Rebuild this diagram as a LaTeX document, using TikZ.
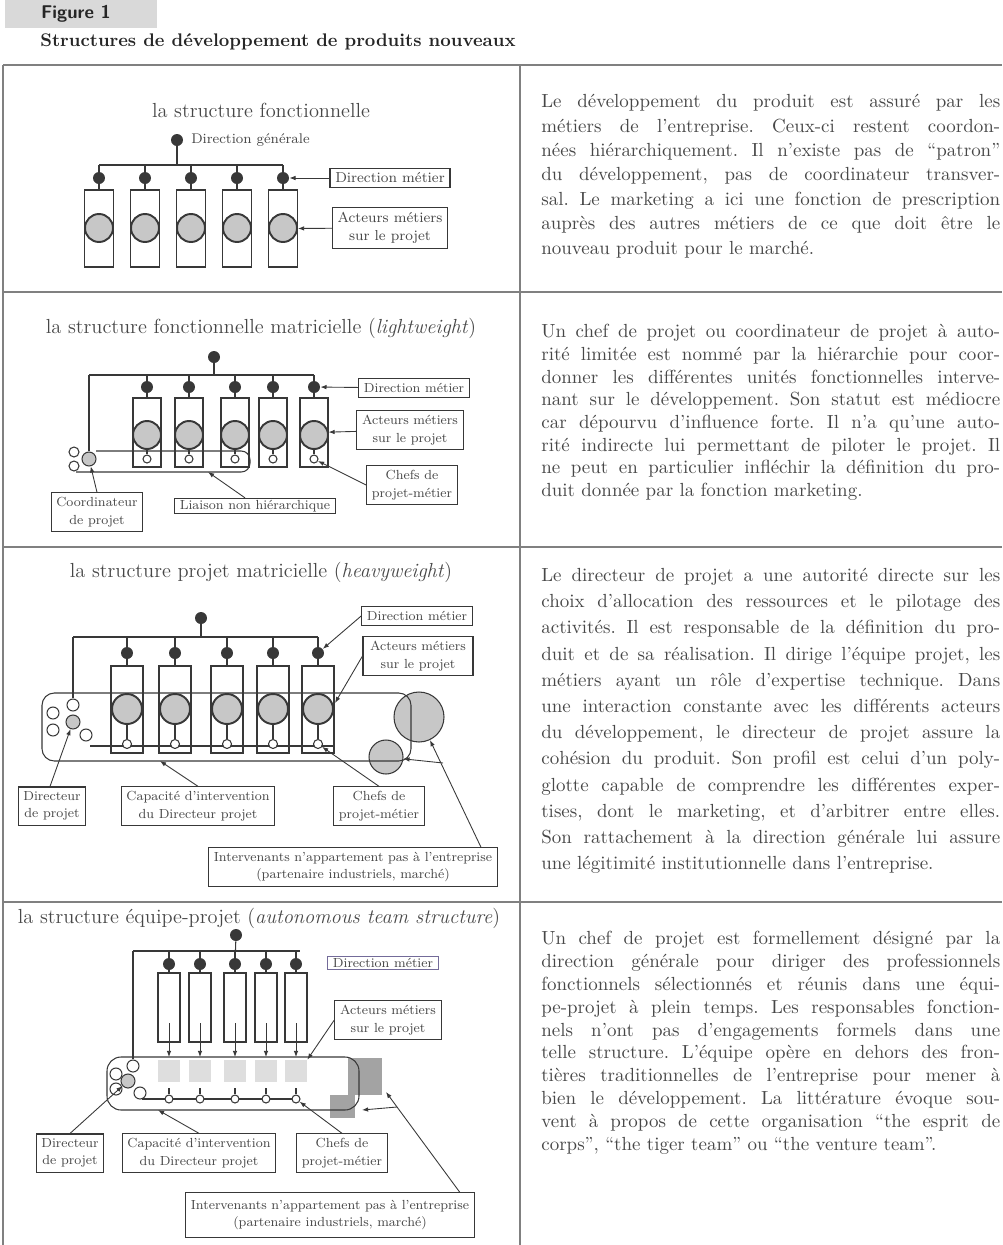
\documentclass[tikz,border=0pt]{standalone}
\usepackage{tikz}
\usetikzlibrary{positioning, arrows.meta}
\definecolor{cligne}{gray}{0.22}
\definecolor{cacteur}{gray}{0.78}
\definecolor{ccase}{gray}{0.87}
\definecolor{cext}{gray}{0.64}
\definecolor{ccadre}{gray}{0.5}
\definecolor{ctexte}{gray}{0.28}
\definecolor{cbandeau}{gray}{0.85}
\definecolor{cbleu}{rgb}{0.45,0.42,0.6}
\setlength{\parindent}{0pt}
\frenchspacing
\tolerance=10000
\hbadness=10000
\exhyphenpenalty=10000
\hyphenpenalty=10000

\begin{document}
\begin{tikzpicture}[x=0.02cm, y=-0.02cm,
    rond/.style={circle, fill=cligne, inner sep=0pt, minimum size=0.24cm},
    poste/.style={draw=cligne, line width=0.6pt, inner sep=0pt},
    acteur/.style={circle, draw=cligne, line width=1.1pt, fill=cacteur, inner sep=0pt},
    chef/.style={circle, draw=cligne, line width=0.6pt, fill=white, inner sep=0pt, minimum size=0.16cm},
    autre/.style={circle, draw=cligne, line width=0.6pt, inner sep=0pt, minimum size=0.24cm},
    dirp/.style={circle, draw=cligne, line width=0.6pt, fill=cacteur, inner sep=0pt, minimum size=0.28cm},
    etiq/.style={draw=cligne, line width=0.6pt, fill=white, align=center, text=ctexte,
                 font=\fontsize{7.5}{10}\selectfont, inner xsep=3pt, inner ysep=2.5pt},
    titre/.style={text=ctexte, font=\fontsize{11.6}{13}\selectfont},
    lien/.style={cligne, line width=0.6pt},
    fl/.style={-{Latex[length=3.5pt,width=2.6pt]}, cligne, line width=0.5pt},
    texte/.style={anchor=north west, inner sep=0pt, text width=9.18cm, align=justify, text=ctexte}]

  \useasboundingbox (0,0) rectangle (1002,1245);

  % en-tete
  \fill[cbandeau] (5,0) rectangle (157,28);
  \node[font=\sffamily\bfseries\fontsize{10.5}{12}\selectfont, text=black!85] (fig) at (76,14) {Figure 1};
  \node[font=\bfseries\fontsize{10.4}{12}\selectfont, text=black!85] (titre) at (278,42)
    {Structures de développement de produits nouveaux};
  \draw[ccadre, line width=0.8pt] (3,65) -- (1002,65) (3,292) -- (1002,292)
    (3,547) -- (1002,547) (3,902) -- (1002,902) (3,65) -- (3,1245) (520,65) -- (520,1245);

  % structure fonctionnelle
  \node[titre] (t1) at (261,110) {la structure fonctionnelle};
  \node[rond] (g1) at (177,140) {};
  \node[right=1pt of g1, text=ctexte, font=\fontsize{8}{9}\selectfont] (gl1) {Direction générale};
  \draw[lien] (g1) -- (177,165);
  \draw[lien] (99,165) -- (283,165);
  \foreach \i/\x in {1/99, 2/145, 3/191, 4/237, 5/283} {
    \node[rond] (d1\i) at (\x,178) {};
    \node[poste, minimum width=0.58cm, minimum height=1.54cm] (p1\i) at (\x,228.5) {};
    \node[acteur, minimum size=0.56cm] (a1\i) at (\x,228) {};
    \draw[lien] (\x,165) -- (d1\i) (d1\i) -- (p1\i);
  }
  \node[etiq, font=\fontsize{8.2}{10.5}\selectfont] (dm1) at (390,178) {Direction métier};
  \node[etiq, font=\fontsize{8.2}{10.5}\selectfont] (am1) at (390,228) {Acteurs métiers\\sur le projet};
  \draw[fl] (dm1) -- (d15);
  \draw[fl] (am1) -- (p15);

  % structure fonctionnelle matricielle
  \node[titre] (t2) at (261,328) {la structure fonctionnelle matricielle (\textit{lightweight})};
  \node[rond] (g2) at (214,357) {};
  \draw[lien] (g2) -- (214,375);
  \draw[lien] (89,375) -- (314,375);
  \draw[lien, rounded corners=5pt] (96,451) -- (250,451) -- (250,472) -- (76,472);
  \node[dirp] (cc2) at (89,459) {};
  \draw[lien] (89,375) -- (cc2);
  \node[autre, minimum size=0.2cm] (o21) at (74,452) {};
  \node[autre, minimum size=0.2cm] (o22) at (74,466) {};
  \foreach \i/\x in {1/147, 2/189, 3/235, 4/273, 5/314} {
    \node[rond] (d2\i) at (\x,387) {};
    \node[poste, minimum width=0.56cm, minimum height=1.38cm] (p2\i) at (\x,432.5) {};
    \node[acteur, minimum size=0.56cm] (a2\i) at (\x,435) {};
    \node[chef] (c2\i) at (\x,459) {};
    \draw[lien] (\x,375) -- (d2\i) (d2\i) -- (p2\i) (a2\i) -- (c2\i);
  }
  \node[etiq] (dm2) at (414,388) {Direction métier};
  \node[etiq] (am2) at (410,430) {Acteurs métiers\\sur le projet};
  \node[etiq] (ch2) at (412,485) {Chefs de\\projet-métier};
  \node[etiq] (co2) at (97,512) {Coordinateur\\de projet};
  \node[etiq, inner ysep=1pt] (li2) at (255,506) {Liaison non hiérarchique};
  \coordinate (lb2) at (208,472);
  \draw[fl] (dm2) -- (d25);
  \draw[fl] (am2) -- (p25);
  \draw[fl] (ch2.west) -- (c25);
  \draw[fl] (co2.north) -- (cc2);
  \draw[fl] ([xshift=-0.2cm]li2.north) -- (lb2);

  % structure projet matricielle
  \node[titre] (t3) at (261,572) {la structure projet matricielle (\textit{heavyweight})};
  \node[rond] (g3) at (201,618) {};
  \draw[lien] (g3) -- (201,637);
  \draw[lien] (73,637) -- (318,637);
  \node[acteur, line width=0.6pt, minimum size=1.0cm] (ge3) at (419,717) {};
  \node[acteur, line width=0.6pt, minimum size=0.68cm] (pe3) at (386,757) {};
  \draw[lien, rounded corners=7pt] (42,693) rectangle (411,761);
  \draw[lien] (90,746) -- (334,746);
  \node[dirp] (dir3) at (73,722) {};
  \foreach \n/\p in {1/{73,705}, 2/{53,713}, 3/{53,730}, 4/{86,735}}
    \node[autre] (o3\n) at (\p) {};
  \draw[lien] (73,637) -- (o31);
  \foreach \i/\x in {1/127, 2/175, 3/227, 4/273, 5/318} {
    \node[rond] (d3\i) at (\x,653) {};
    \node[poste, minimum width=0.64cm, minimum height=1.74cm] (p3\i) at (\x,709.5) {};
    \node[acteur, minimum size=0.6cm] (a3\i) at (\x,709) {};
    \node[chef, minimum size=0.18cm] (c3\i) at (\x,744) {};
    \draw[lien] (\x,637) -- (d3\i) (d3\i) -- (p3\i) (a3\i) -- (c3\i);
  }
  \node[etiq, minimum width=2.2cm] (dm3) at (417,616) {Direction métier};
  \node[etiq, minimum width=2.2cm] (am3) at (418,656) {Acteurs métiers\\sur le projet};
  \node[etiq] (dp3) at (52,806) {Directeur\\de projet};
  \node[etiq] (ca3) at (198,806) {Capacité d'intervention\\du Directeur projet};
  \node[etiq] (ch3) at (379,806) {Chefs de\\projet-métier};
  \node[etiq] (in3) at (353,867)
    {Intervenants n'appartement pas à l'entreprise\\(partenaire industriels, marché)};
  \coordinate (pa3) at (335,703);
  \coordinate (cb3) at (160,761);
  \coordinate (br3) at (443,763);
  \draw[fl] (dm3.west) -- (d35);
  \draw[fl] (am3.west) -- (pa3);
  \draw[fl] ([xshift=-0.04cm]dp3.north) -- (dir3);
  \draw[fl] (ca3.north) -- (cb3);
  \draw[fl] (ch3.north) -- (c35);
  \draw[fl] ([xshift=-0.34cm]in3.north east) -- (ge3);
  \draw[fl] (br3) -- (pe3);

  % structure equipe-projet
  \node[titre] (t4) at (259,918) {la structure équipe-projet (\textit{autonomous team structure})};
  \node[rond] (g4) at (236,935) {};
  \draw[lien] (133,951) -- (300,951);
  \fill[cext] (348,1058) rectangle (382,1095);
  \fill[cext] (330,1095) rectangle (355,1118);
  \draw[lien, rounded corners=8pt] (107,1057) rectangle (359,1110);
  \draw[lien] (142,1099) -- (296,1099);
  \node[dirp] (dir4) at (128,1081) {};
  \foreach \n/\p in {1/{133,1066}, 2/{116,1074}, 3/{116,1089}, 4/{140,1093}}
    \node[autre] (o4\n) at (\p) {};
  \draw[lien] (133,951) -- (o41);
  \foreach \i/\x in {1/169, 2/200, 3/235, 4/266, 5/296} {
    \node[rond] (d4\i) at (\x,964) {};
    \node[poste, minimum width=0.44cm, minimum height=1.38cm] (p4\i) at (\x,1007.5) {};
    \node[fill=ccase, minimum size=0.44cm, inner sep=0pt] (q4\i) at (\x,1071) {};
    \node[chef] (c4\i) at (\x,1099) {};
    \coordinate (h4\i) at (\x,1023);
    \coordinate (b4\i) at (\x,1057);
    \draw[lien] (\x,951) -- (d4\i) (d4\i) -- (p4\i) (\x,1088) -- (c4\i);
    \draw[fl] (h4\i) -- (b4\i);
  }
  \draw[lien] (g4) -- (d43);
  \node[etiq, draw=cbleu, inner ysep=1pt] (dm4) at (383,963) {Direction métier};
  \node[etiq] (am4) at (388,1020) {Acteurs métiers\\sur le projet};
  \node[etiq] (dp4) at (70,1153) {Directeur\\de projet};
  \node[etiq] (ca4) at (199,1153) {Capacité d'intervention\\du Directeur projet};
  \node[etiq] (ch4) at (342,1153) {Chefs de\\projet-métier};
  \node[etiq, inner ysep=4pt] (in4) at (330,1215)
    {Intervenants n'appartement pas à l'entreprise\\(partenaire industriels, marché)};
  \coordinate (cb4) at (158,1110);
  \coordinate (ge4) at (386,1092);
  \coordinate (br4) at (397,1107);
  \coordinate (pe4) at (362,1110);
  \draw[fl] (am4.west) -- (q45.north east);
  \draw[fl] (dp4.north) -- (dir4);
  \draw[fl] (ca4.north) -- (cb4);
  \draw[fl] (ch4.north) -- (c45);
  \draw[fl] ([xshift=-0.3cm]in4.north east) -- (ge4);
  \draw[fl] (br4) -- (pe4);

  % textes
  \node[texte, font=\fontsize{10.8}{13.9}\selectfont] (x1) at (541,94)
    {Le développement du produit est assuré par les\linebreak
     métiers de l'entreprise. Ceux-ci restent coordon-\linebreak
     nées hiérarchiquement. Il n'existe pas de “patron”\linebreak
     du développement, pas de coordinateur transver-\linebreak
     sal. Le marketing a ici une fonction de prescription\linebreak
     auprès des autres métiers de ce que doit être le\linebreak
     nouveau produit pour le marché.};
  \node[texte, font=\fontsize{10.8}{12.9}\selectfont] (x2) at (541,324)
    {Un chef de projet ou coordinateur de projet à auto-\linebreak
     rité limitée est nommé par la hiérarchie pour coor-\linebreak
     donner les différentes unités fonctionnelles interve-\linebreak
     nant sur le développement. Son statut est médiocre\linebreak
     car dépourvu d'influence forte. Il n'a qu'une auto-\linebreak
     rité indirecte lui permettant de piloter le projet. Il\linebreak
     ne peut en particulier infléchir la définition du pro-\linebreak
     duit donnée par la fonction marketing.};
  \node[texte, font=\fontsize{10.8}{14.9}\selectfont] (x3) at (541,568)
    {Le directeur de projet a une autorité directe sur les\linebreak
     choix d'allocation des ressources et le pilotage des\linebreak
     activités. Il est responsable de la définition du pro-\linebreak
     duit et de sa réalisation. Il dirige l'équipe projet, les\linebreak
     métiers ayant un rôle d'expertise technique. Dans\linebreak
     une interaction constante avec les différents acteurs\linebreak
     du développement, le directeur de projet assure la\linebreak
     cohésion du produit. Son profil est celui d'un poly-\linebreak
     glotte capable de comprendre les différentes exper-\linebreak
     tises, dont le marketing, et d'arbitrer entre elles.\linebreak
     Son rattachement à la direction générale lui assure\linebreak
     une légitimité institutionnelle dans l'entreprise.};
  \node[texte, font=\fontsize{10.8}{13}\selectfont] (x4) at (541,931)
    {Un chef de projet est formellement désigné par la\linebreak
     direction générale pour diriger des professionnels\linebreak
     fonctionnels sélectionnés et réunis dans une équi-\linebreak
     pe-projet à plein temps. Les responsables fonction-\linebreak
     nels n'ont pas d'engagements formels dans une\linebreak
     telle structure. L'équipe opère en dehors des fron-\linebreak
     tières traditionnelles de l'entreprise pour mener à\linebreak
     bien le développement. La littérature évoque sou-\linebreak
     vent à propos de cette organisation “the esprit de\linebreak
     corps”, “the tiger team” ou “the venture team”.};
\end{tikzpicture}
\end{document}
